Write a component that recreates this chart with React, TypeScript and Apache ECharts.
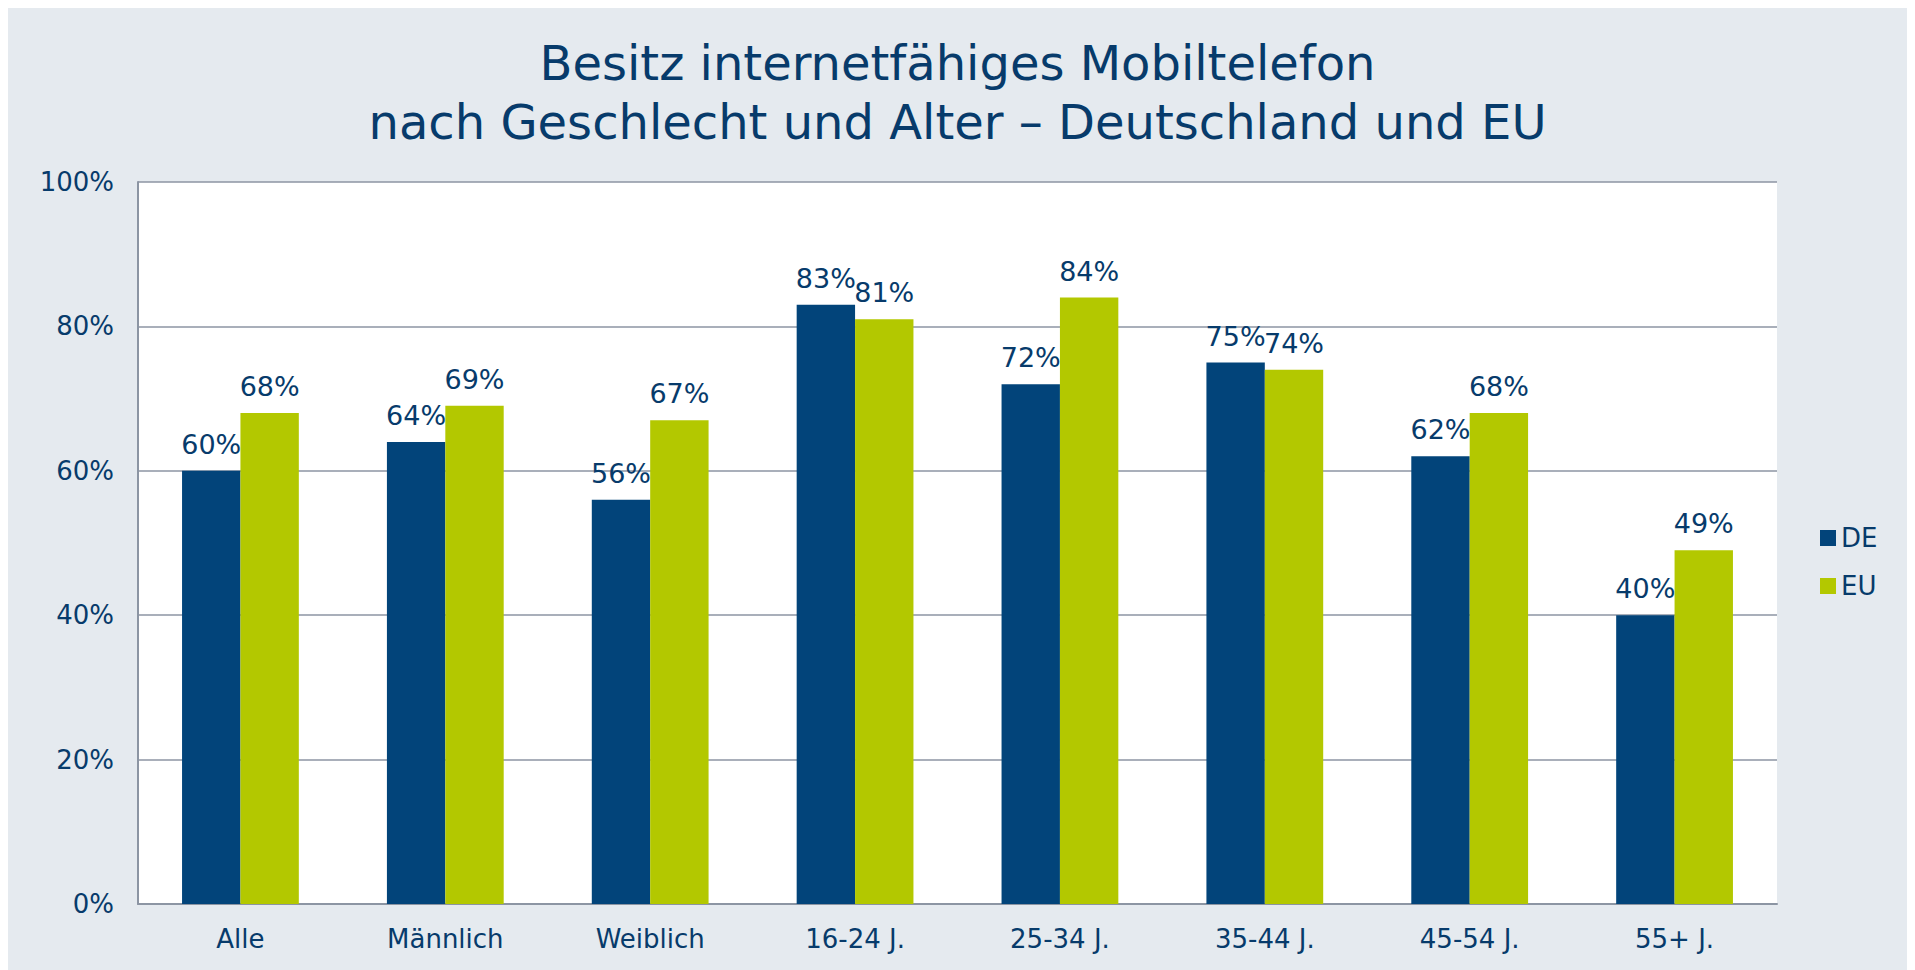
import React, { useEffect, useRef } from "react";
import * as echarts from "echarts";

const titleLines = ["Besitz internetfähiges Mobiltelefon", "nach Geschlecht und Alter – Deutschland und EU"];
const categories = ["Alle", "Männlich", "Weiblich", "16-24 J.", "25-34 J.", "35-44 J.", "45-54 J.", "55+ J."];
const seriesNames = ["DE", "EU"];
const deValues = [60, 64, 56, 83, 72, 75, 62, 40];
const euValues = [68, 69, 67, 81, 84, 74, 68, 49];
const yTicks = [0, 20, 40, 60, 80, 100];

const FONT = 'Verdana, "DejaVu Sans", sans-serif';
const TEXT = "#073B6B";
const DE_COLOR = "#02447A";
const EU_COLOR = "#B3C800";
const LINE = "#8C95A3";

export default function App() {
  const ref = useRef<HTMLDivElement>(null);
  useEffect(() => {
    document.documentElement.style.overflow = "hidden";
    const chart = echarts.init(ref.current!, null, { renderer: "svg" });
    chart.setOption({
      animation: false,
      backgroundColor: "#E5EAEF",
      textStyle: { fontFamily: FONT, color: TEXT },
      title: {
        text: titleLines.join("\n"),
        left: "center",
        top: 20,
        textStyle: { fontFamily: FONT, fontSize: 48, lineHeight: 59, fontWeight: "normal", color: TEXT },
      },
      legend: {
        orient: "vertical",
        left: 1807,
        top: 512,
        itemWidth: 16,
        itemHeight: 16,
        itemGap: 22,
        icon: "rect",
        textStyle: { fontFamily: FONT, fontSize: 26, color: TEXT, padding: [0, 0, 0, 0] },
        data: seriesNames,
      },
      grid: {
        left: 130,
        right: 130,
        top: 174,
        bottom: 66,
        show: true,
        backgroundColor: "#FFFFFF",
        borderWidth: 0,
      },
      xAxis: {
        type: "category",
        data: categories,
        axisTick: { show: false },
        axisLine: { show: true, lineStyle: { color: LINE, width: 2 } },
        axisLabel: { fontFamily: FONT, fontSize: 26, color: TEXT, margin: 22 },
      },
      yAxis: {
        type: "value",
        min: yTicks[0],
        max: yTicks[yTicks.length - 1],
        interval: 20,
        axisLine: { show: true, lineStyle: { color: LINE, width: 2 } },
        axisTick: { show: false },
        splitLine: { show: true, lineStyle: { color: LINE, width: 1.5 } },
        axisLabel: { fontFamily: FONT, fontSize: 26, color: TEXT, margin: 24, formatter: "{value}%" },
      },
      series: [
        {
          name: seriesNames[0],
          type: "bar",
          data: deValues,
          itemStyle: { color: DE_COLOR },
          barGap: "0%",
          barCategoryGap: "43%",
          label: { show: true, position: "top", distance: 13, formatter: "{c}%", fontFamily: FONT, fontSize: 27, color: TEXT },
        },
        {
          name: seriesNames[1],
          type: "bar",
          data: euValues,
          itemStyle: { color: EU_COLOR },
          barGap: "0%",
          barCategoryGap: "43%",
          label: { show: true, position: "top", distance: 13, formatter: "{c}%", fontFamily: FONT, fontSize: 27, color: TEXT },
        },
      ],
    });
    return () => chart.dispose();
  }, []);
  return <div ref={ref} style={{ width: "100%", height: 962 }} />;
}
